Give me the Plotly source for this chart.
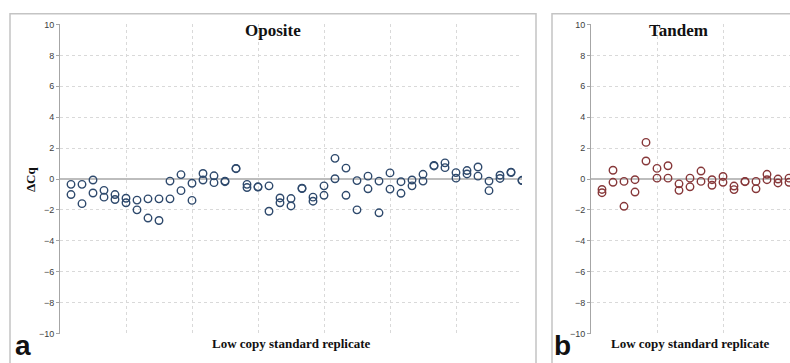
import plotly.graph_objects as go

# ---- data ----
replicate_a = list(range(1, 43))
oposite_rep1 = [-0.34, -0.34, -0.06, -0.73, -1.0, -1.24, -1.36, -1.28, -1.28, -0.13,
                0.29, -0.27, 0.36, 0.21, -0.13, 0.69, -0.34, -0.5, -0.44, -1.22,
                -1.26, -0.59, -1.17, -0.44, 1.34, 0.71, -0.1, 0.19, -0.13, 0.4,
                -0.17, -0.06, 0.31, 0.88, 1.05, 0.42, 0.55, 0.78, -0.13, 0.25,
                0.45, -0.08]
oposite_rep2 = [-1.0, -1.59, -0.9, -1.17, -1.32, -1.53, -1.99, -2.52, -2.68, -1.28,
                -0.75, -1.38, -0.06, -0.23, -0.17, 0.67, -0.55, -0.52, -2.08, -1.53,
                -1.74, -0.61, -1.43, -1.05, 0.02, -1.05, -1.99, -0.63, -2.18, -0.65,
                -0.92, -0.44, -0.13, 0.85, 0.74, 0.06, 0.33, 0.19, -0.75, 0.04,
                0.42, -0.1]

replicate_b = list(range(1, 19))
tandem_rep1 = [-0.67, 0.57, -0.15, -0.04, 2.37, 0.69, 0.86, -0.31, 0.06, 0.52,
               -0.04, 0.17, -0.45, -0.15, -0.15, 0.31, 0.0, 0.06]
tandem_rep2 = [-0.88, -0.21, -1.76, -0.84, 1.17, 0.06, 0.06, -0.73, -0.5, -0.15,
               -0.4, -0.21, -0.68, -0.17, -0.63, -0.04, -0.25, -0.21]

y_ticks = [-10, -8, -6, -4, -2, 0, 2, 4, 6, 8, 10]

W, H = 790, 363
BLUE = "#2f4a6d"
RED = "#87383a"
SERIF = "Liberation Serif, Times New Roman, serif"
SANS = "Liberation Sans, Arial, sans-serif"


def px_x(p):
    return p / W


def px_y(p):
    return 1 - p / H


fig = go.Figure()
marker_a = dict(symbol="circle-open", size=7.5, color=BLUE, line=dict(width=1.4, color=BLUE))
marker_b = dict(symbol="circle-open", size=7.5, color=RED, line=dict(width=1.4, color=RED))
fig.add_trace(go.Scatter(x=replicate_a, y=oposite_rep1, mode="markers", marker=marker_a,
                         xaxis="x", yaxis="y", showlegend=False))
fig.add_trace(go.Scatter(x=replicate_a, y=oposite_rep2, mode="markers", marker=marker_a,
                         xaxis="x", yaxis="y", showlegend=False))
fig.add_trace(go.Scatter(x=replicate_b, y=tandem_rep1, mode="markers", marker=marker_b,
                         xaxis="x2", yaxis="y2", showlegend=False))
fig.add_trace(go.Scatter(x=replicate_b, y=tandem_rep2, mode="markers", marker=marker_b,
                         xaxis="x2", yaxis="y2", showlegend=False))

ydom = [px_y(338), px_y(20)]
xaxis_common = dict(dtick=6, tick0=0, showticklabels=False, ticks="", showgrid=True,
                    gridcolor="#d9d9d9", griddash="dot", gridwidth=1, zeroline=False,
                    showline=False)
yaxis_common = dict(range=[-10, 10], tickvals=y_ticks, ticks="outside", ticklen=3,
                    tickcolor="#a6a6a6", showline=True, linecolor="#a6a6a6", linewidth=1,
                    showgrid=True, gridcolor="#d9d9d9", griddash="dot", gridwidth=1,
                    zeroline=True, zerolinecolor="#bdbdbd", zerolinewidth=1.5,
                    tickfont=dict(family=SANS, size=9, color="#404040"))

fig.update_layout(
    width=W, height=H,
    margin=dict(l=0, r=0, t=0, b=0),
    paper_bgcolor="white", plot_bgcolor="white",
    xaxis=dict(domain=[px_x(60), px_x(522)], range=[0, 42], **xaxis_common),
    yaxis=dict(domain=ydom, anchor="x", **yaxis_common),
    xaxis2=dict(domain=[px_x(591), 1.0], range=[0, (W - 591) / 11.0], anchor="y2", **xaxis_common),
    yaxis2=dict(domain=ydom, anchor="x2", **yaxis_common),
)

# panel frames
fig.add_shape(type="rect", xref="paper", yref="paper",
              x0=px_x(10), x1=px_x(536), y0=-0.1, y1=px_y(9),
              line=dict(color="#c4c4c4", width=1.5), layer="below")
fig.add_shape(type="rect", xref="paper", yref="paper",
              x0=px_x(552), x1=1.1, y0=-0.1, y1=px_y(9),
              line=dict(color="#c4c4c4", width=1.5), layer="below")


def ann(text, x, y, size, family, angle=0, bold=True):
    fig.add_annotation(text=f"<b>{text}</b>" if bold else text, xref="paper", yref="paper",
                       x=px_x(x), y=px_y(y), xanchor="center", yanchor="middle",
                       showarrow=False, textangle=angle, borderpad=0,
                       font=dict(family=family, size=size, color="#111111"))


ann("Oposite", 273, 26, 17, SERIF)
ann("Tandem", 678, 26, 17, SERIF)
ann("ΔCq", 30, 179, 13, SERIF, angle=-90)
ann("Low copy standard replicate", 291, 348, 13, SERIF)
ann("Low copy standard replicate", 690, 348, 13, SERIF)
ann("a", 23, 350, 28, SANS)
ann("b", 562, 350, 28, SANS)

fig.write_html("out.html")
